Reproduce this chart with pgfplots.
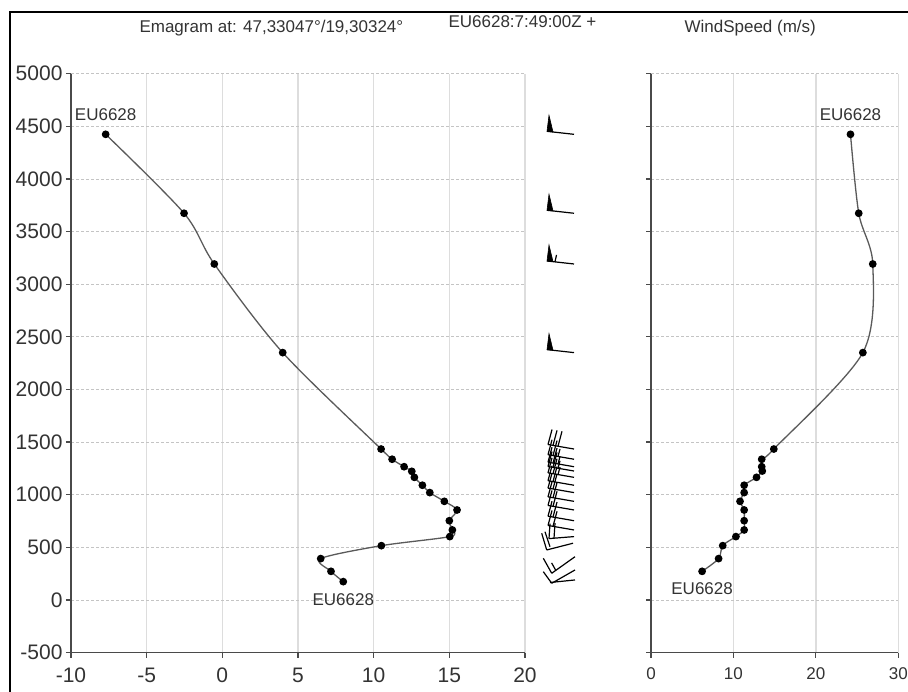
\documentclass[border=0pt]{standalone}
\usepackage{fontspec}
\setmainfont{Liberation Sans}
\usepackage{pgfplots}
\pgfplotsset{compat=1.18}
\definecolor{gridv}{HTML}{DDDDDD}
\definecolor{gridh}{HTML}{C4C4C4}
\definecolor{axc}{HTML}{4A4A4A}
\definecolor{txt}{HTML}{333333}
\definecolor{linec}{HTML}{5A5A5A}

\pgfplotstableread{
T h
-7.71 4424
-2.53 3674
-0.53 3192
3.99 2350
10.49 1434
11.22 1337
12.01 1266
12.52 1222
12.69 1165
13.22 1090
13.71 1020
14.67 937
15.51 855
15.00 753
15.20 665
15.03 602
10.51 516
6.50 393
7.18 272
7.99 174
}\temptable

\pgfplotstableread{
W h
24.2 4424
25.2 3674
26.9 3192
25.7 2350
14.9 1434
13.43 1337
13.43 1266
13.5 1225
12.8 1165
11.3 1090
11.3 1020
10.8 937
11.3 855
11.3 753
11.3 665
10.3 602
8.7 516
8.2 393
6.2 272
}\windtable

% wind barbs: x in pixels, y in metres; each row one stroke (x y u v)
\pgfplotstableread{
x y u v
574 4424 -27 28.5
574 3674 -27 28.5
574 3192 -27 28.5
555 3212 1.5 66.5
574 2350 -27 28.5
574 1434 -26 42.75
548 1476.75 4 142.5
553 1468.5 4 142.5
558 1460.3 4 142.5
574 1337 -26 42.75
548 1379.75 4 142.5
553 1371.5 4 142.5
558 1363.3 2 71
574 1266 -26 42.75
548 1308.75 4 142.5
553 1300.5 4 142.5
558 1292.3 2 71
574 1225 -26 42.75
548 1267.75 4 142.5
553 1259.5 4 142.5
558 1251.3 2 71
574 1165 -26 42.75
548 1207.75 4 142.5
553 1199.5 4 142.5
558 1191.3 2 71
574 1090 -26 42.75
548 1132.75 4 142.5
553 1124.5 4 142.5
574 1020 -26 42.75
548 1062.75 4 142.5
553 1054.5 4 142.5
574 937 -26 42.75
548 979.75 4 142.5
553 971.5 4 142.5
574 855 -26 42.75
548 897.75 4 142.5
553 889.5 4 142.5
574 753 -26 42.75
548 795.75 4 142.5
553 787.5 4 142.5
574 665 -26 42.75
548 707.75 4 142.5
553 699.5 4 142.5
574 602 -25 -19
549 583 1 142.5
554 586.8 1 142.5
573 539 -26.3 -64
546.7 475 -5 158.6
550 506 -5 142.5
575 411 -23.3 -157.4
551.7 253.6 -8.4 142.5
555.8 281.2 -4.2 71
575 285 -23.3 -126.3
551.7 158.7 -8.4 110
575 190 -25 -24
}\barbtable

\begin{document}
\begin{tikzpicture}[x=1pt,y=1pt]
\useasboundingbox (0,0) rectangle (908,692);
\fill[white] (0,0) rectangle (908,692);
\draw[black, line width=2.5pt] (10,0) -- (10,680) -- (908,680);

\pgfplotsset{
  common/.style={
    scale only axis, height=578.9pt,
    ymin=-500, ymax=5000,
    ytick={-500,0,500,1000,1500,2000,2500,3000,3500,4000,4500,5000},
    axis lines*=left,
    axis line style={axc, line width=1.4pt, -},
    tick style={axc, line width=1.2pt},
    tick align=outside, major tick length=5pt,
    xmajorgrids, ymajorgrids,
    major x grid style={gridv, line width=1.3pt},
    major y grid style={gridh, line width=0.8pt, dash pattern=on 3pt off 2pt},
    clip=false,
  },
}

% Emagram (temperature) axis
\begin{axis}[common,
  at={(71pt,39.4pt)}, anchor=south west, width=454pt,
  xmin=-10, xmax=20,
  xtick={-10,-5,0,5,10,15,20},
  xticklabels={-10,-5,0,5,10,15,20},
  yticklabels={-500,0,500,1000,1500,2000,2500,3000,3500,4000,4500,5000},
  tick label style={font=\fontsize{21}{21}\selectfont, text=txt},
  xticklabel style={yshift=-7pt},
]
\addplot[linec, line width=1.3pt, smooth, tension=0.5, mark=*, mark size=3.2pt,
  mark options={draw=black, fill=black, solid}] table[x=T, y=h] {\temptable};
\node[font=\fontsize{17}{17}\selectfont, text=txt] at (axis cs:-7.71,4424) [yshift=19.3pt] {EU6628};
\node[font=\fontsize{17}{17}\selectfont, text=txt] at (axis cs:7.99,174) [yshift=-18.3pt] {EU6628};
\end{axis}

% wind barbs
\begin{axis}[at={(530pt,39.4pt)}, anchor=south west, scale only axis,
  width=70pt, height=578.9pt, xmin=530, xmax=600, ymin=-500, ymax=5000,
  hide axis, clip=false]
\addplot[black, line width=1.2pt, quiver={u=\thisrow{u}, v=\thisrow{v}}] table[x=x, y=y] {\barbtable};
\addplot[black, fill=black, line width=0.6pt] coordinates {(547,4452.5) (553,4446) (549,4604.5)} -- cycle;
\addplot[black, fill=black, line width=0.6pt] coordinates {(547,3702.5) (553,3696) (549,3854.5)} -- cycle;
\addplot[black, fill=black, line width=0.6pt] coordinates {(547,3220.5) (553,3214) (549,3372.5)} -- cycle;
\addplot[black, fill=black, line width=0.6pt] coordinates {(547,2378.5) (553,2372) (549,2530.5)} -- cycle;
\end{axis}

% Wind speed axis
\begin{axis}[common,
  at={(651pt,39.4pt)}, anchor=south west, width=247.3pt,
  xmin=0, xmax=30,
  xtick={0,10,20,30},
  xticklabels={0,10,20,30},
  yticklabels={},
  tick label style={font=\fontsize{17}{17}\selectfont, text=txt},
  xticklabel style={yshift=-7pt},
]
\addplot[linec, line width=1.3pt, smooth, tension=0.5, mark=*, mark size=3.2pt,
  mark options={draw=black, fill=black, solid}] table[x=W, y=h] {\windtable};
\node[font=\fontsize{17}{17}\selectfont, text=txt] at (axis cs:24.2,4424) [yshift=19.3pt] {EU6628};
\node[font=\fontsize{17}{17}\selectfont, text=txt] at (axis cs:6.2,272) [yshift=-17.7pt] {EU6628};
\end{axis}

\node[anchor=base west, font=\fontsize{17}{17}\selectfont, text=txt] at (136,659) {Emagram at: 47,33047°/19,30324°};
\node[anchor=base west, font=\fontsize{17}{17}\selectfont, text=txt] at (445,664) {EU6628:7:49:00Z +};
\node[anchor=base west, font=\fontsize{17}{17}\selectfont, text=txt] at (681,659) {WindSpeed (m/s)};
\end{tikzpicture}
\end{document}
